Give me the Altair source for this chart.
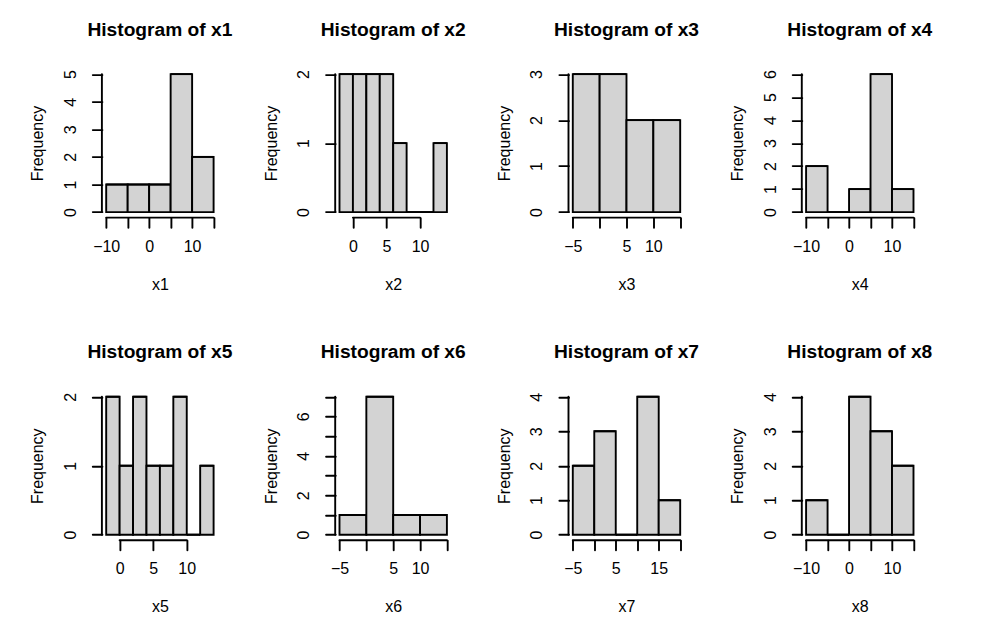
import altair as alt
import pandas as pd

# ---- data (R base-graphics histograms) ----
names = ["x1", "x2", "x3", "x4", "x5", "x6", "x7", "x8"]

breaks_x1 = [-10, -5, 0, 5, 10, 15]
counts_x1 = [1, 1, 1, 5, 2]
breaks_x2 = [-2, 0, 2, 4, 6, 8, 10, 12, 14]
counts_x2 = [2, 2, 2, 2, 1, 0, 0, 1]
breaks_x3 = [-5, 0, 5, 10, 15]
counts_x3 = [3, 3, 2, 2]
breaks_x4 = [-10, -5, 0, 5, 10, 15]
counts_x4 = [2, 0, 1, 6, 1]
breaks_x5 = [-2, 0, 2, 4, 6, 8, 10, 12, 14]
counts_x5 = [2, 1, 2, 1, 1, 2, 0, 1]
breaks_x6 = [-5, 0, 5, 10, 15]
counts_x6 = [1, 7, 1, 1]
breaks_x7 = [-5, 0, 5, 10, 15, 20]
counts_x7 = [2, 3, 0, 4, 1]
breaks_x8 = [-10, -5, 0, 5, 10, 15]
counts_x8 = [1, 0, 4, 3, 2]

xticks_x1 = [-10, -5, 0, 5, 10, 15]; xlabels_x1 = [-10, 0, 10]
xticks_x2 = [0, 5, 10];              xlabels_x2 = [0, 5, 10]
xticks_x3 = [-5, 0, 5, 10, 15];      xlabels_x3 = [-5, 5, 10]
xticks_x4 = [-10, -5, 0, 5, 10, 15]; xlabels_x4 = [-10, 0, 10]
xticks_x5 = [0, 5, 10];              xlabels_x5 = [0, 5, 10]
xticks_x6 = [-5, 0, 5, 10, 15];      xlabels_x6 = [-5, 5, 10]
xticks_x7 = [-5, 0, 5, 10, 15, 20];  xlabels_x7 = [-5, 5, 15]
xticks_x8 = [-10, -5, 0, 5, 10, 15]; xlabels_x8 = [-10, 0, 10]

yticks_x1 = [0, 1, 2, 3, 4, 5];       ylabels_x1 = [0, 1, 2, 3, 4, 5]
yticks_x2 = [0, 1, 2];                ylabels_x2 = [0, 1, 2]
yticks_x3 = [0, 1, 2, 3];             ylabels_x3 = [0, 1, 2, 3]
yticks_x4 = [0, 1, 2, 3, 4, 5, 6];    ylabels_x4 = [0, 1, 2, 3, 4, 5, 6]
yticks_x5 = [0, 1, 2];                ylabels_x5 = [0, 1, 2]
yticks_x6 = [0, 1, 2, 3, 4, 5, 6, 7]; ylabels_x6 = [0, 2, 4, 6]
yticks_x7 = [0, 1, 2, 3, 4];          ylabels_x7 = [0, 1, 2, 3, 4]
yticks_x8 = [0, 1, 2, 3, 4];          ylabels_x8 = [0, 1, 2, 3, 4]

panels = [
    ("x1", breaks_x1, counts_x1, xticks_x1, xlabels_x1, yticks_x1, ylabels_x1),
    ("x2", breaks_x2, counts_x2, xticks_x2, xlabels_x2, yticks_x2, ylabels_x2),
    ("x3", breaks_x3, counts_x3, xticks_x3, xlabels_x3, yticks_x3, ylabels_x3),
    ("x4", breaks_x4, counts_x4, xticks_x4, xlabels_x4, yticks_x4, ylabels_x4),
    ("x5", breaks_x5, counts_x5, xticks_x5, xlabels_x5, yticks_x5, ylabels_x5),
    ("x6", breaks_x6, counts_x6, xticks_x6, xlabels_x6, yticks_x6, ylabels_x6),
    ("x7", breaks_x7, counts_x7, xticks_x7, xlabels_x7, yticks_x7, ylabels_x7),
    ("x8", breaks_x8, counts_x8, xticks_x8, xlabels_x8, yticks_x8, ylabels_x8),
]

# ---- styling ----
W, H = 116, 149
FONT = "Liberation Sans"
LW = 1.9
TICK = 9.6


def label_expr(shown):
    arr = ",".join(str(v) for v in shown)
    return f"indexof([{arr}], datum.value) >= 0 ? datum.label : ''"


def panel(name, br, ct, xt, xl, yt, yl):
    bars = pd.DataFrame({"lo": br[:-1], "hi": br[1:], "base": [0] * len(ct), "count": ct})
    axl = pd.DataFrame({"xa": [xt[0]], "xb": [xt[-1]], "ya": [yt[0]], "yb": [yt[-1]]})

    span = br[-1] - br[0]
    ymax = max(ct)
    xs = alt.Scale(domain=[br[0] - 0.04 * span, br[-1] + 0.04 * span], nice=False, zero=False)
    ys = alt.Scale(domain=[-0.04 * ymax, 1.04 * ymax], nice=False, zero=False)

    xaxis = alt.Axis(
        values=xt, format="d", labelExpr=label_expr(xl), domain=False, grid=False,
        tickSize=TICK, tickWidth=LW, tickColor="black", tickCap="round",
        labelFont=FONT, labelFontSize=16, labelColor="black",
        labelBaseline="alphabetic", labelPadding=33.5 - TICK,
        labelOverlap=False, labelFlush=False,
        title=name, titleFont=FONT, titleFontSize=16, titleFontWeight="normal",
        titleColor="black", titleBaseline="alphabetic", titleAlign="center",
        titleX=W / 2, titleY=71.8,
    )
    yaxis = alt.Axis(
        values=yt, format="d", labelExpr=label_expr(yl), domain=False, grid=False,
        tickSize=TICK, tickWidth=LW, tickColor="black", tickCap="round",
        labelFont=FONT, labelFontSize=16, labelColor="black",
        labelAngle=270, labelAlign="center", labelBaseline="alphabetic",
        labelPadding=26.7 - TICK, labelOverlap=False, labelFlush=False,
        title="Frequency", titleFont=FONT, titleFontSize=16, titleFontWeight="normal",
        titleColor="black", titleAngle=270, titleAlign="center",
        titleBaseline="alphabetic", titleX=-59, titleY=H / 2,
    )

    rects = alt.Chart(bars).mark_rect(
        fill="#d3d3d3", stroke="black", strokeWidth=LW
    ).encode(
        x=alt.X("lo:Q", scale=xs, axis=xaxis),
        x2="hi:Q",
        y=alt.Y("base:Q", scale=ys, axis=yaxis),
        y2="count:Q",
    )
    # top edge of every bin (shows the flat line of empty bins, as R does)
    tops = alt.Chart(bars).mark_rule(color="black", strokeWidth=LW).encode(
        x=alt.X("lo:Q", scale=xs, axis=xaxis),
        x2="hi:Q",
        y=alt.Y("count:Q", scale=ys, axis=yaxis),
    )
    xline = alt.Chart(axl).mark_rule(color="black", strokeWidth=LW, strokeCap="round").encode(
        x=alt.X("xa:Q", scale=xs, axis=xaxis),
        x2="xb:Q",
        y=alt.value(H),
    )
    yline = alt.Chart(axl).mark_rule(color="black", strokeWidth=LW, strokeCap="round").encode(
        y=alt.Y("ya:Q", scale=ys, axis=yaxis),
        y2="yb:Q",
        x=alt.value(0),
    )
    return alt.layer(rects, tops, xline, yline).properties(
        width=W, height=H,
        title=alt.Title(
            f"Histogram of {name}", font=FONT, fontSize=19.2, fontWeight="bold",
            color="black", baseline="alphabetic", offset=13.5, anchor="middle",
            frame="group",
        ),
    )


charts = [panel(*p) for p in panels]

chart = alt.concat(
    *charts, columns=4, spacing={"row": 173.6, "column": 117.3}, bounds="flush"
).properties(
    padding={"left": 21.9, "top": 12.6, "right": 10, "bottom": 10},
    background="white",
).configure_view(stroke=None)

chart.save("out.html", embed_options={"renderer": "svg", "actions": False})
